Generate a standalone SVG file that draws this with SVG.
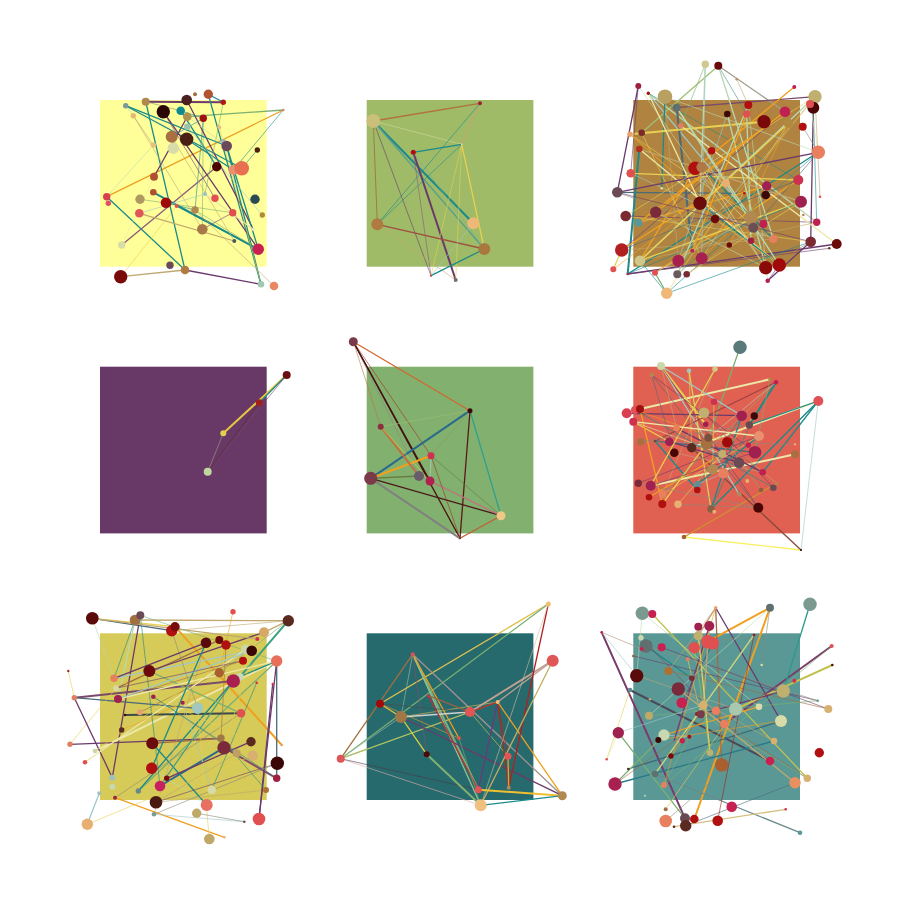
<svg xmlns="http://www.w3.org/2000/svg" width="900" height="900" viewBox="0 0 900 900">
<style>
line{stroke-linecap:round;stroke-width:1}
.a{stroke-width:.6}.m{stroke-width:1.3}.h{stroke-width:2}
.t{stroke:#1b8a8a}.p{stroke:#6b3a6b}.o{stroke:#f0a020}.g{stroke:#7ab070}.y{stroke:#e8d050}.l{stroke:#b8d8b0}.k{stroke:#c0a870}.b{stroke:#a06a40}.r{stroke:#a02020}.d{stroke:#3a1010}.s{stroke:#4a6a7a}.e{stroke:#8a8a7a}.c{stroke:#a0c8c8}.v{stroke:#ece8a8}
</style>
<rect width="900" height="900" fill="#fff"/>
<g id="panels">
<rect x="100" y="100" width="166.7" height="166.7" fill="#ffff99"/>
<rect x="366.7" y="100" width="166.7" height="166.7" fill="#9fbb67"/>
<rect x="633.3" y="100" width="166.7" height="166.7" fill="#b08440"/>
<rect x="100" y="366.7" width="166.7" height="166.7" fill="#683866"/>
<rect x="366.7" y="366.7" width="166.7" height="166.7" fill="#82b06e"/>
<rect x="633.3" y="366.7" width="166.7" height="166.7" fill="#e06152"/>
<rect x="100" y="633.3" width="166.7" height="166.7" fill="#d6ca58"/>
<rect x="366.7" y="633.3" width="166.7" height="166.7" fill="#276a6e"/>
<rect x="633.3" y="633.3" width="166.7" height="166.7" fill="#5a9896"/>
</g>
<g id="connectors">
<!-- panel 1 -->
<line x1="145.7" y1="101.7" x2="223.3" y2="102.3" class="p h"/>
<line x1="125.7" y1="105.7" x2="241.7" y2="168.3" class="t m"/>
<line x1="283.3" y1="110" x2="106.7" y2="196.7" class="o m"/>
<line x1="283.3" y1="110" x2="187.3" y2="116.7" class="g m"/>
<line x1="283.3" y1="110" x2="233.3" y2="170" class="t a"/>
<line x1="106.7" y1="196.7" x2="185" y2="270" class="t m"/>
<line x1="106.7" y1="196.7" x2="153.3" y2="145" class="l a"/>
<line x1="185" y1="270" x2="261" y2="284.3" class="p m"/>
<line x1="120.7" y1="276.7" x2="185" y2="270" class="k m"/>
<line x1="120.7" y1="276.7" x2="176.7" y2="206" class="y a"/>
<line x1="121.7" y1="245" x2="216.7" y2="166.7" class="m" stroke="#8a5a7a"/>
<line x1="145.7" y1="101.7" x2="185" y2="270" class="t m"/>
<line x1="208.3" y1="94.3" x2="261" y2="284.3" class="t m"/>
<line x1="203.3" y1="118.3" x2="202.3" y2="229.3" class="g a"/>
<line x1="203.3" y1="118.3" x2="195" y2="210" class="t a"/>
<line x1="186.7" y1="100" x2="253.3" y2="229.3" class="p m"/>
<line x1="163.3" y1="111.7" x2="258.3" y2="249.3" class="p m"/>
<line x1="153.3" y1="192.3" x2="258.3" y2="249.3" class="t h"/>
<line x1="139.3" y1="213.3" x2="234.3" y2="241" class="k m"/>
<line x1="140" y1="199.3" x2="232.7" y2="212.7" class="g a"/>
<line x1="166" y1="202.7" x2="195" y2="210" class="t a"/>
<line x1="154" y1="176.7" x2="187.3" y2="116.7" class="p m"/>
<line x1="133.3" y1="115.7" x2="202.3" y2="229.3" class="k a"/>
<line x1="125.7" y1="105.7" x2="226.7" y2="146" class="t m"/>
<line x1="180.7" y1="110.7" x2="216.7" y2="166.7" class="t m"/>
<line x1="180.7" y1="110.7" x2="203.3" y2="118.3" class="t a"/>
<line x1="208.3" y1="94.3" x2="223.3" y2="102.3" class="t m"/>
<line x1="258.3" y1="249.3" x2="176.7" y2="206" class="t m"/>
<line x1="258.3" y1="249.3" x2="195" y2="210" class="g a"/>
<line x1="232.7" y1="212.7" x2="202.3" y2="229.3" class="p a"/>
<line x1="226.7" y1="146" x2="258.3" y2="249.3" class="t m"/>
<line x1="226.7" y1="146" x2="261" y2="284.3" class="t m"/>
<line x1="241.7" y1="168.3" x2="257.3" y2="150" class="t a"/>
<line x1="171.7" y1="136.7" x2="203.3" y2="118.3" class="t a"/>
<line x1="186.7" y1="139.3" x2="233.3" y2="170" class="t m"/>
<line x1="171.7" y1="136.7" x2="234.3" y2="241" class="k a"/>
<line x1="205" y1="194" x2="253.3" y2="229.3" class="v m"/>
<line x1="163.3" y1="111.7" x2="215" y2="198.3" class="p a"/>
<line x1="219.3" y1="127.3" x2="261" y2="284.3" class="y a"/>
<line x1="205" y1="194" x2="139.3" y2="213.3" class="c a"/>
<line x1="133.3" y1="115.7" x2="153.3" y2="145" class="k a"/>
<line x1="145.7" y1="101.7" x2="180.7" y2="110.7" class="e a"/>
<line x1="223.3" y1="102.3" x2="205" y2="194" class="g a"/>
<line x1="121.7" y1="245" x2="154" y2="176.7" class="v a"/>
<line x1="187.3" y1="126.7" x2="262.3" y2="215" class="c a"/>
<line x1="195" y1="210" x2="274" y2="286" class="k a"/>
<line x1="187.3" y1="116.7" x2="226.7" y2="146" class="l a"/>
<line x1="125.7" y1="105.7" x2="133.3" y2="115.7" class="l a"/>
<!-- panel 2 -->
<line x1="373.3" y1="121" x2="480" y2="103.3" class="m" stroke="#b07040"/>
<line x1="373.3" y1="121" x2="461.7" y2="144.3" class="a" stroke="#d0d8a0"/>
<line x1="373.3" y1="121" x2="377.3" y2="224.3" class="a" stroke="#a05030"/>
<line x1="373.3" y1="121" x2="473.3" y2="223.3" class="t h"/>
<line x1="373.3" y1="121" x2="484.3" y2="249" class="m" stroke="#5aa08a"/>
<line x1="373.3" y1="121" x2="431" y2="275.7" class="p a"/>
<line x1="413.3" y1="152.3" x2="461.7" y2="144.3" class="t m"/>
<line x1="413.3" y1="152.3" x2="455.7" y2="280" class="p h"/>
<line x1="413.3" y1="152.3" x2="431" y2="275.7" class="a" stroke="#8a5a7a"/>
<line x1="480" y1="103.3" x2="461.7" y2="144.3" class="k m"/>
<line x1="480" y1="103.3" x2="377.3" y2="224.3" class="t a"/>
<line x1="461.7" y1="144.3" x2="377.3" y2="224.3" class="t a"/>
<line x1="461.7" y1="144.3" x2="484.3" y2="249" class="y m"/>
<line x1="461.7" y1="144.3" x2="431" y2="275.7" class="y a"/>
<line x1="461.7" y1="144.3" x2="455.7" y2="280" class="y a"/>
<line x1="377.3" y1="224.3" x2="484.3" y2="249" class="m" stroke="#a05040"/>
<line x1="377.3" y1="224.3" x2="455.7" y2="280" class="k a"/>
<line x1="484.3" y1="249" x2="431" y2="275.7" class="t m"/>
<line x1="473.3" y1="223.3" x2="431" y2="275.7" class="c a"/>
<line x1="413.3" y1="152.3" x2="484.3" y2="249" class="a" stroke="#70b090"/>
<!-- panel 3 -->
<line x1="718.3" y1="65.7" x2="641.7" y2="132.7" class="m" stroke="#a0c070"/>
<line x1="705.3" y1="64.3" x2="700" y2="203.3" class="l m"/>
<line x1="718.3" y1="65.7" x2="746.7" y2="114" class="a" stroke="#4a8a8a"/>
<line x1="718.3" y1="65.7" x2="785" y2="111.7" class="m" stroke="#a0a090"/>
<line x1="736.7" y1="79.3" x2="748.3" y2="105" class="k a"/>
<line x1="648.3" y1="93.3" x2="751" y2="217.7" class="c m"/>
<line x1="648.3" y1="93.3" x2="816.7" y2="222.3" class="l m"/>
<line x1="648.3" y1="93.3" x2="798.3" y2="180" class="t a"/>
<line x1="665" y1="96.7" x2="661.7" y2="188.3" class="t m"/>
<line x1="676.7" y1="107.7" x2="692.3" y2="250.7" class="s h"/>
<line x1="676.7" y1="107.7" x2="815" y2="96.7" class="m" stroke="#7a4a6a"/>
<line x1="794.3" y1="87" x2="695" y2="168.3" class="o m"/>
<line x1="815" y1="96.7" x2="640" y2="260.7" class="l m"/>
<line x1="813.3" y1="107.7" x2="810.7" y2="241.7" class="p m"/>
<line x1="764" y1="121.7" x2="630" y2="134.3" class="y h"/>
<line x1="617.3" y1="192.3" x2="744.3" y2="193.3" class="s m"/>
<line x1="617.3" y1="192.3" x2="638.3" y2="86" class="p m"/>
<line x1="627.7" y1="274" x2="818.3" y2="152.3" class="t m"/>
<line x1="627.7" y1="274" x2="836.7" y2="244" class="p m"/>
<line x1="627.7" y1="274" x2="639.3" y2="149" class="t h"/>
<line x1="666.7" y1="293.3" x2="751" y2="217.7" class="t a"/>
<line x1="666.7" y1="293.3" x2="655" y2="272.7" class="g m"/>
<line x1="765.7" y1="267.7" x2="810.7" y2="241.7" class="e a"/>
<line x1="767.7" y1="280.7" x2="810.7" y2="241.7" class="p m"/>
<line x1="621.7" y1="250" x2="726" y2="183.3" class="o m"/>
<line x1="640" y1="260.7" x2="695" y2="168.3" class="o m"/>
<line x1="638.3" y1="222.7" x2="766.7" y2="186" class="o m"/>
<line x1="701.7" y1="258.3" x2="765.7" y2="195" class="o a"/>
<line x1="655" y1="272.7" x2="798.3" y2="180" class="o m"/>
<line x1="655.7" y1="212.3" x2="785" y2="111.7" class="o m"/>
<line x1="630.7" y1="173.3" x2="798.3" y2="180" class="y m"/>
<line x1="625.7" y1="216" x2="810.7" y2="241.7" class="y a"/>
<line x1="640" y1="260.7" x2="801" y2="201.7" class="y m"/>
<line x1="779.3" y1="265" x2="639.3" y2="149" class="v m"/>
<line x1="727.3" y1="114" x2="765.7" y2="267.7" class="l m"/>
<line x1="746.7" y1="114" x2="751" y2="240.7" class="l m"/>
<line x1="748.3" y1="105" x2="767.7" y2="280.7" class="l a"/>
<line x1="718.3" y1="65.7" x2="773.3" y2="239" class="l m"/>
<line x1="676.7" y1="107.7" x2="751" y2="217.7" class="l m"/>
<line x1="700" y1="203.3" x2="779.3" y2="265" class="t m"/>
<line x1="701.7" y1="167.3" x2="773.3" y2="239" class="t m"/>
<line x1="813.3" y1="107.7" x2="816.7" y2="222.3" class="t a"/>
<line x1="625.7" y1="216" x2="816.7" y2="222.3" class="p a"/>
<line x1="621.7" y1="250" x2="785" y2="111.7" class="p a"/>
<line x1="767.7" y1="280.7" x2="779.3" y2="265" class="p a"/>
<line x1="680.7" y1="125.7" x2="836.7" y2="244" class="v m"/>
<line x1="638.3" y1="86" x2="630.7" y2="173.3" class="p a"/>
<line x1="810" y1="104" x2="818.3" y2="152.3" class="v a"/>
<line x1="815" y1="96.7" x2="820" y2="196.7" class="k a"/>
<line x1="818.3" y1="152.3" x2="802.7" y2="126.7" class="e a"/>
<line x1="665" y1="96.7" x2="678.3" y2="260.7" class="k a"/>
<line x1="641.7" y1="132.7" x2="701.7" y2="258.3" class="y a"/>
<line x1="711.7" y1="150.7" x2="715" y2="219" class="e a"/>
<line x1="695" y1="168.3" x2="753.3" y2="227.7" class="v a"/>
<line x1="726" y1="183.3" x2="677.3" y2="274.3" class="g a"/>
<line x1="617.3" y1="192.3" x2="751" y2="240.7" class="e a"/>
<line x1="801" y1="201.7" x2="627.7" y2="274" class="t a"/>
<line x1="700" y1="203.3" x2="638.3" y2="222.7" class="k a"/>
<line x1="655.7" y1="212.3" x2="765.7" y2="267.7" class="l a"/>
<line x1="715" y1="219" x2="779.3" y2="265" class="y a"/>
<line x1="753.3" y1="227.7" x2="818.3" y2="152.3" class="s a"/>
<line x1="763.3" y1="224" x2="630" y2="134.3" class="y a"/>
<line x1="773.3" y1="239" x2="621.7" y2="250" class="k a"/>
<line x1="829.3" y1="248.3" x2="627.7" y2="274" class="p a"/>
<line x1="729.3" y1="245" x2="788.3" y2="123.3" class="o a"/>
<line x1="678.3" y1="260.7" x2="815" y2="96.7" class="l a"/>
<line x1="701.7" y1="258.3" x2="788.3" y2="123.3" class="y a"/>
<line x1="677.3" y1="274.3" x2="818.3" y2="152.3" class="a" stroke="#3a8a9a"/>
<line x1="686.7" y1="274.3" x2="753.3" y2="227.7" class="k a"/>
<line x1="666.7" y1="293.3" x2="715" y2="219" class="y a"/>
<line x1="630" y1="134.3" x2="751" y2="240.7" class="o a"/>
<line x1="692.3" y1="250.7" x2="746.7" y2="114" class="o m"/>
<line x1="613.3" y1="269.3" x2="726" y2="183.3" class="o a"/>
<line x1="705.3" y1="64.3" x2="680.7" y2="125.7" class="g a"/>
<line x1="640" y1="260.7" x2="666.7" y2="293.3" class="t a"/>
<line x1="630" y1="134.3" x2="779.3" y2="265" class="o a"/>
<line x1="638.3" y1="86" x2="765.7" y2="267.7" class="l a"/>
<line x1="648.3" y1="93.3" x2="700" y2="203.3" class="v m"/>
<line x1="630.7" y1="173.3" x2="773.3" y2="239" class="c a"/>
<line x1="617.3" y1="192.3" x2="818.3" y2="152.3" class="p m"/>
<line x1="625.7" y1="216" x2="815" y2="96.7" class="y a"/>
<line x1="638.3" y1="222.7" x2="785" y2="111.7" class="o m"/>
<line x1="640" y1="260.7" x2="788.3" y2="123.3" class="y m"/>
<line x1="613.3" y1="269.3" x2="621.7" y2="250" class="y m"/>
<line x1="655" y1="272.7" x2="751" y2="217.7" class="l a"/>
<line x1="677.3" y1="274.3" x2="748.3" y2="105" class="l m"/>
<line x1="678.3" y1="260.7" x2="727.3" y2="114" class="c a"/>
<line x1="765.7" y1="267.7" x2="701.7" y2="167.3" class="v a"/>
<line x1="692.3" y1="250.7" x2="815" y2="96.7" class="o a"/>
<line x1="686.7" y1="274.3" x2="801" y2="201.7" class="y a"/>
<line x1="666.7" y1="293.3" x2="810.7" y2="241.7" class="t a"/>
<line x1="810.7" y1="241.7" x2="617.3" y2="192.3" class="p a"/>
<line x1="801" y1="201.7" x2="639.3" y2="149" class="k m"/>
<line x1="665" y1="96.7" x2="818.3" y2="152.3" class="l a"/>
<line x1="676.7" y1="107.7" x2="779.3" y2="265" class="l m"/>
<line x1="705.3" y1="64.3" x2="701.7" y2="258.3" class="c a"/>
<line x1="748.3" y1="105" x2="655.7" y2="212.3" class="e a"/>
<line x1="798.3" y1="180" x2="621.7" y2="250" class="s a"/>
<line x1="816.7" y1="222.3" x2="640" y2="260.7" class="k a"/>
<!-- panel 4 -->
<line x1="286.7" y1="375" x2="223.3" y2="433.3" class="h" stroke="#e8c840"/>
<line x1="286.7" y1="375" x2="259.3" y2="402.7" class="t m"/>
<line x1="286.7" y1="375" x2="207.7" y2="471.7" class="a" stroke="#7a4a6a"/>
<line x1="259.3" y1="402.7" x2="207.7" y2="471.7" class="a" stroke="#5a2a2a"/>
<line x1="223.3" y1="433.3" x2="207.7" y2="471.7" class="a" stroke="#a0a080"/>
<!-- panel 5 -->
<line x1="353.3" y1="341.7" x2="470" y2="410.7" class="m" stroke="#d06830"/>
<line x1="353.3" y1="341.7" x2="380.7" y2="426.7" class="a" stroke="#c07040"/>
<line x1="353.3" y1="341.7" x2="431" y2="455.7" class="a" stroke="#a03020"/>
<line x1="353.3" y1="341.7" x2="419" y2="476" class="e a"/>
<line x1="353.3" y1="341.7" x2="430" y2="481" class="d m"/>
<line x1="353.3" y1="341.7" x2="460" y2="538.3" class="m" stroke="#4a1010"/>
<line x1="470" y1="410.7" x2="370.7" y2="478.3" class="h" stroke="#2a6a8a"/>
<line x1="470" y1="410.7" x2="501" y2="515.7" class="m" stroke="#30a090"/>
<line x1="470" y1="410.7" x2="460" y2="538.3" class="m" stroke="#5a1a1a"/>
<line x1="470" y1="410.7" x2="380.7" y2="426.7" class="a" stroke="#a0c070"/>
<line x1="470" y1="410.7" x2="431" y2="455.7" class="a" stroke="#8a9a50"/>
<line x1="370.7" y1="478.3" x2="431" y2="455.7" class="o h"/>
<line x1="370.7" y1="478.3" x2="419" y2="476" class="m" stroke="#6a7a40"/>
<line x1="370.7" y1="478.3" x2="501" y2="515.7" class="m" stroke="#4a1a1a"/>
<line x1="370.7" y1="478.3" x2="460" y2="538.3" class="h" stroke="#808080"/>
<line x1="430" y1="481" x2="501" y2="515.7" class="m" stroke="#c07080"/>
<line x1="431" y1="455.7" x2="501" y2="515.7" class="a" stroke="#6a7a40"/>
<line x1="431" y1="455.7" x2="460" y2="538.3" class="a" stroke="#a03020"/>
<line x1="501" y1="515.7" x2="460" y2="538.3" class="m" stroke="#c06030"/>
<line x1="380.7" y1="426.7" x2="419" y2="476" class="h" stroke="#c07040"/>
<line x1="380.7" y1="426.7" x2="430" y2="481" class="a" stroke="#e0d040"/>
<line x1="431" y1="455.7" x2="430" y2="481" class="m" stroke="#a0c0a0"/>
<!-- panel 6 -->
<line x1="740" y1="347.3" x2="706.7" y2="443.3" class="g m"/>
<line x1="640" y1="409" x2="770" y2="379.3" class="v h"/>
<line x1="818.3" y1="401" x2="691.7" y2="447.7" class="v h"/>
<line x1="818.3" y1="401" x2="711" y2="509" class="t m"/>
<line x1="818.3" y1="401" x2="762.7" y2="472.3" class="t m"/>
<line x1="818.3" y1="401" x2="749.3" y2="425" class="t m"/>
<line x1="818.3" y1="401" x2="801" y2="550" class="c a"/>
<line x1="684" y1="537" x2="801" y2="550" class="m" stroke="#f8f060"/>
<line x1="684" y1="537" x2="776.7" y2="483.3" class="m" stroke="#d09030"/>
<line x1="801" y1="550" x2="691.7" y2="447.7" class="m" stroke="#8a4a3a"/>
<line x1="661" y1="366" x2="739.3" y2="494.3" class="c m"/>
<line x1="661" y1="366" x2="705.7" y2="424.3" class="y h"/>
<line x1="689" y1="370.7" x2="711" y2="509" class="m" stroke="#d8d060"/>
<line x1="651.7" y1="375" x2="758.3" y2="507.7" class="s a"/>
<line x1="776" y1="382.3" x2="749.3" y2="425" class="t h"/>
<line x1="776" y1="382.3" x2="655" y2="441" class="m" stroke="#a04040"/>
<line x1="770" y1="379.3" x2="755" y2="452.3" class="g a"/>
<line x1="715" y1="369" x2="662.7" y2="494.3" class="k a"/>
<line x1="626.7" y1="413.3" x2="741.7" y2="415.7" class="p m"/>
<line x1="633.3" y1="421.7" x2="669.3" y2="441.7" class="y m"/>
<line x1="655" y1="441" x2="697.3" y2="490" class="t m"/>
<line x1="655" y1="441" x2="755" y2="452.3" class="s m"/>
<line x1="650.7" y1="485.7" x2="795" y2="454.3" class="v h"/>
<line x1="649" y1="497.3" x2="722.3" y2="454" class="o m"/>
<line x1="662.3" y1="504" x2="706.7" y2="443.3" class="y m"/>
<line x1="741.7" y1="415.7" x2="711" y2="509" class="t m"/>
<line x1="754.3" y1="416" x2="711" y2="509" class="t a"/>
<line x1="669.3" y1="441.7" x2="739" y2="462.7" class="p m"/>
<line x1="676.7" y1="428.3" x2="762.7" y2="472.3" class="p m"/>
<line x1="759" y1="436" x2="697.7" y2="484.3" class="t m"/>
<line x1="739" y1="462.7" x2="747.3" y2="481" class="e a"/>
<line x1="661" y1="366" x2="741.7" y2="415.7" class="c m"/>
<line x1="635" y1="410" x2="727.3" y2="442.3" class="o a"/>
<line x1="640.7" y1="441.7" x2="795" y2="444.3" class="e a"/>
<line x1="638.3" y1="483.3" x2="759" y2="436" class="p a"/>
<line x1="662.7" y1="494.3" x2="759" y2="436" class="y a"/>
<line x1="678" y1="504.3" x2="758.3" y2="507.7" class="e a"/>
<line x1="651.7" y1="375" x2="674.3" y2="452.7" class="s a"/>
<line x1="689" y1="370.7" x2="691.7" y2="447.7" class="y a"/>
<line x1="714" y1="401.7" x2="712.7" y2="469.3" class="y a"/>
<line x1="704" y1="412.7" x2="773.3" y2="487.7" class="p a"/>
<line x1="705.7" y1="424.3" x2="776.7" y2="483.3" class="k a"/>
<line x1="727.3" y1="442.3" x2="761" y2="490" class="g a"/>
<line x1="674.3" y1="452.7" x2="762.7" y2="472.3" class="a" stroke="#c0a080"/>
<line x1="723.3" y1="473.3" x2="697.7" y2="484.3" class="c a"/>
<line x1="697.7" y1="484.3" x2="741.7" y2="415.7" class="t a"/>
<line x1="708.3" y1="437.7" x2="776" y2="382.3" class="l a"/>
<line x1="640" y1="409" x2="662.3" y2="504" class="o m"/>
<line x1="633.3" y1="421.7" x2="722.3" y2="454" class="v a"/>
<line x1="676.7" y1="428.3" x2="661" y2="366" class="k a"/>
<line x1="650.7" y1="485.7" x2="755" y2="452.3" class="p a"/>
<line x1="638.3" y1="483.3" x2="758.3" y2="507.7" class="e a"/>
<line x1="651.7" y1="375" x2="755" y2="452.3" class="p a"/>
<line x1="711" y1="509" x2="818.3" y2="401" class="t a"/>
<line x1="661" y1="366" x2="758.3" y2="507.7" class="p a"/>
<line x1="715" y1="369" x2="650.7" y2="485.7" class="y m"/>
<line x1="635" y1="410" x2="773.3" y2="487.7" class="t a"/>
<line x1="633.3" y1="421.7" x2="759" y2="436" class="v m"/>
<line x1="640.7" y1="441.7" x2="749.3" y2="425" class="e a"/>
<line x1="662.7" y1="494.3" x2="776" y2="382.3" class="g a"/>
<line x1="678" y1="504.3" x2="754.3" y2="416" class="y a"/>
<!-- panel 7 -->
<line x1="92.3" y1="618.3" x2="171.7" y2="630.7" class="s m"/>
<line x1="135" y1="620" x2="288.3" y2="620.7" class="k m"/>
<line x1="92.3" y1="618.3" x2="114" y2="678.3" class="l a"/>
<line x1="92.3" y1="618.3" x2="175" y2="626.7" class="y m"/>
<line x1="175" y1="626.7" x2="281.7" y2="745" class="o h"/>
<line x1="140.3" y1="615.3" x2="112.3" y2="777.7" class="p m"/>
<line x1="135" y1="620" x2="118" y2="699" class="l m"/>
<line x1="135" y1="620" x2="114" y2="678.3" class="t a"/>
<line x1="288.3" y1="620.7" x2="240" y2="676.7" class="h" stroke="#3aa080"/>
<line x1="288.3" y1="620.7" x2="264" y2="632.3" class="k m"/>
<line x1="288.3" y1="620.7" x2="219.3" y2="672.7" class="g a"/>
<line x1="251.7" y1="650.7" x2="114" y2="678.3" class="c m"/>
<line x1="276.7" y1="661" x2="138.3" y2="791" class="g m"/>
<line x1="276.7" y1="661" x2="95" y2="751" class="v h"/>
<line x1="276.7" y1="661" x2="276.7" y2="778.3" class="s m"/>
<line x1="276.7" y1="661" x2="259" y2="819" class="p m"/>
<line x1="276.7" y1="661" x2="240" y2="676.7" class="t m"/>
<line x1="233.3" y1="681" x2="74.3" y2="697.7" class="h" stroke="#7a4a6a"/>
<line x1="219.3" y1="672.7" x2="140" y2="712.3" class="b a"/>
<line x1="197.7" y1="708.3" x2="74.3" y2="697.7" class="s m"/>
<line x1="125" y1="715" x2="241" y2="713.3" class="h" stroke="#3a4a4a"/>
<line x1="160" y1="786" x2="224" y2="747.7" class="h" stroke="#2a6a8a"/>
<line x1="115" y1="797.7" x2="224.3" y2="837.3" class="o m"/>
<line x1="70" y1="744.3" x2="221" y2="738.3" class="p m"/>
<line x1="70" y1="744.3" x2="116" y2="688.3" class="y a"/>
<line x1="74.3" y1="697.7" x2="112.3" y2="777.7" class="p m"/>
<line x1="224" y1="747.7" x2="276.7" y2="778.3" class="h" stroke="#8a4a6a"/>
<line x1="152.3" y1="743.3" x2="221" y2="738.3" class="b m"/>
<line x1="152.3" y1="743.3" x2="206.7" y2="805" class="t m"/>
<line x1="219.3" y1="640" x2="116" y2="688.3" class="b m"/>
<line x1="233" y1="611.7" x2="219.3" y2="672.7" class="o a"/>
<line x1="233.3" y1="681" x2="160" y2="786" class="m" stroke="#4aa080"/>
<line x1="233.3" y1="681" x2="138.3" y2="791" class="t m"/>
<line x1="87.3" y1="824.3" x2="99.3" y2="793.3" class="c m"/>
<line x1="68.3" y1="671" x2="74.3" y2="697.7" class="y a"/>
<line x1="206" y1="642.7" x2="154" y2="814.3" class="k a"/>
<line x1="226" y1="645" x2="221" y2="738.3" class="b a"/>
<line x1="245.7" y1="649.3" x2="85" y2="762.3" class="v m"/>
<line x1="171.7" y1="630.7" x2="288.3" y2="620.7" class="k a"/>
<line x1="153.3" y1="696.7" x2="236.7" y2="753.3" class="e a"/>
<line x1="182.7" y1="702.7" x2="211.7" y2="790" class="c a"/>
<line x1="197.7" y1="708.3" x2="209.3" y2="839" class="y a"/>
<line x1="241" y1="713.3" x2="115" y2="797.7" class="e a"/>
<line x1="251" y1="741.7" x2="166.7" y2="778.3" class="p m"/>
<line x1="252.7" y1="755.7" x2="87.3" y2="824.3" class="y a"/>
<line x1="151.7" y1="768.3" x2="206.7" y2="805" class="l a"/>
<line x1="266" y1="790" x2="156" y2="802.3" class="k a"/>
<line x1="156" y1="802.3" x2="277.3" y2="763.3" class="p a"/>
<line x1="154" y1="814.3" x2="244.3" y2="821.7" class="c a"/>
<line x1="196.7" y1="813.3" x2="244.3" y2="821.7" class="e a"/>
<line x1="259" y1="819" x2="272.7" y2="684" class="p m"/>
<line x1="257.3" y1="639" x2="224" y2="747.7" class="y a"/>
<line x1="243" y1="660.7" x2="118" y2="699" class="b a"/>
<line x1="256.7" y1="682.7" x2="211.7" y2="790" class="t a"/>
<line x1="236.7" y1="753.3" x2="156" y2="802.3" class="k a"/>
<line x1="140.3" y1="615.3" x2="160" y2="786" class="t a"/>
<line x1="149.3" y1="671" x2="264" y2="632.3" class="p m"/>
<line x1="92.3" y1="618.3" x2="257.3" y2="639" class="k m"/>
<line x1="140.3" y1="615.3" x2="276.7" y2="661" class="g a"/>
<line x1="171.7" y1="630.7" x2="197.7" y2="708.3" class="e a"/>
<line x1="206" y1="642.7" x2="114" y2="678.3" class="p m"/>
<line x1="149.3" y1="671" x2="241" y2="713.3" class="g m"/>
<line x1="114" y1="678.3" x2="251" y2="741.7" class="y a"/>
<line x1="118" y1="699" x2="276.7" y2="661" class="v m"/>
<line x1="153.3" y1="696.7" x2="276.7" y2="778.3" class="t a"/>
<line x1="121.7" y1="730" x2="233.3" y2="681" class="o a"/>
<line x1="221" y1="738.3" x2="266" y2="790" class="t a"/>
<line x1="151.7" y1="768.3" x2="206" y2="642.7" class="t m"/>
<line x1="264" y1="632.3" x2="95" y2="751" class="y a"/>
<line x1="251.7" y1="650.7" x2="118" y2="699" class="c m"/>
<line x1="243" y1="660.7" x2="116" y2="688.3" class="p a"/>
<line x1="154" y1="814.3" x2="277.3" y2="763.3" class="e a"/>
<!-- panel 8 -->
<line x1="380" y1="703.7" x2="548.3" y2="604" class="m" stroke="#e0c050"/>
<line x1="340.7" y1="758.7" x2="548.3" y2="604" class="g m"/>
<line x1="340.7" y1="758.7" x2="412.7" y2="654.3" class="m" stroke="#a07040"/>
<line x1="340.7" y1="758.7" x2="401" y2="717" class="a" stroke="#a0c0c0"/>
<line x1="340.7" y1="758.7" x2="470" y2="712" class="g m"/>
<line x1="340.7" y1="758.7" x2="497.7" y2="702" class="y a"/>
<line x1="340.7" y1="758.7" x2="480.7" y2="805.3" class="a" stroke="#e0b0b0"/>
<line x1="340.7" y1="758.7" x2="478.3" y2="789.7" class="a" stroke="#4a3a4a"/>
<line x1="412.7" y1="654.3" x2="401" y2="717" class="a" stroke="#a0c0a0"/>
<line x1="412.7" y1="654.3" x2="478.3" y2="789.7" class="h" stroke="#7ab080"/>
<line x1="412.7" y1="654.3" x2="480.7" y2="805.3" class="m" stroke="#90c090"/>
<line x1="412.7" y1="654.3" x2="459" y2="738.3" class="o m"/>
<line x1="412.7" y1="654.3" x2="562.3" y2="795.7" class="m" stroke="#a09090"/>
<line x1="412.7" y1="654.3" x2="426.7" y2="754.3" class="a" stroke="#8a4a6a"/>
<line x1="380" y1="703.7" x2="401" y2="717" class="m" stroke="#e8c040"/>
<line x1="380" y1="703.7" x2="459" y2="738.3" class="o a"/>
<line x1="401" y1="717" x2="470" y2="712" class="m" stroke="#d0d0d0"/>
<line x1="401" y1="717" x2="426.7" y2="754.3" class="m" stroke="#e0d040"/>
<line x1="401" y1="717" x2="562.3" y2="795.7" class="p m"/>
<line x1="401" y1="717" x2="497.7" y2="702" class="a" stroke="#e0c050"/>
<line x1="428.3" y1="695.7" x2="470" y2="712" class="m" stroke="#a06040"/>
<line x1="428.3" y1="695.7" x2="478.3" y2="789.7" class="m" stroke="#c03030"/>
<line x1="470" y1="712" x2="552.7" y2="660.7" class="h" stroke="#c0a090"/>
<line x1="497.7" y1="702" x2="552.7" y2="660.7" class="m" stroke="#c0a090"/>
<line x1="470" y1="712" x2="497.7" y2="702" class="m" stroke="#c02020"/>
<line x1="470" y1="712" x2="508" y2="756.3" class="a" stroke="#e0d040"/>
<line x1="497.7" y1="702" x2="508.7" y2="787.7" class="m" stroke="#a03020"/>
<line x1="497.7" y1="702" x2="508" y2="756.3" class="a" stroke="#c02020"/>
<line x1="497.7" y1="702" x2="562.3" y2="795.7" class="o m"/>
<line x1="497.7" y1="702" x2="478.3" y2="789.7" class="m" stroke="#6a3a7a"/>
<line x1="548.3" y1="604" x2="508.7" y2="787.7" class="m" stroke="#b02020"/>
<line x1="548.3" y1="604" x2="480.7" y2="805.3" class="a" stroke="#d0c0a0"/>
<line x1="552.7" y1="660.7" x2="480.7" y2="805.3" class="m" stroke="#c0b060"/>
<line x1="508" y1="756.3" x2="508.7" y2="787.7" class="o m"/>
<line x1="478.3" y1="789.7" x2="562.3" y2="795.7" class="h" stroke="#f0c030"/>
<line x1="480.7" y1="805.3" x2="562.3" y2="795.7" class="t m"/>
<line x1="426.7" y1="754.3" x2="480.7" y2="805.3" class="h" stroke="#80b070"/>
<line x1="459" y1="738.3" x2="480.7" y2="805.3" class="a" stroke="#80b070"/>
<line x1="380" y1="703.7" x2="470" y2="712" class="a" stroke="#4a4a4a"/>
<!-- panel 9 -->
<line x1="601.7" y1="632.3" x2="685" y2="818.3" class="h" stroke="#7a3a6a"/>
<line x1="601.7" y1="632.3" x2="641.7" y2="649" class="a" stroke="#b09080"/>
<line x1="630" y1="690" x2="770" y2="761" class="h" stroke="#4a4a5a"/>
<line x1="831.7" y1="646" x2="724.3" y2="724" class="h" stroke="#7a3a6a"/>
<line x1="832.3" y1="665" x2="735.7" y2="709" class="h" stroke="#c0c050"/>
<line x1="770" y1="607.7" x2="707.7" y2="641.7" class="o h"/>
<line x1="770" y1="607.7" x2="694.3" y2="819" class="o h"/>
<line x1="770" y1="607.7" x2="761.7" y2="665" class="e a"/>
<line x1="715.7" y1="607.7" x2="721.7" y2="765" class="b m"/>
<line x1="715.7" y1="607.7" x2="781" y2="721" class="p m"/>
<line x1="715.7" y1="607.7" x2="698.3" y2="635.7" class="k m"/>
<line x1="652.3" y1="614" x2="807.3" y2="778.3" class="m" stroke="#c0c050"/>
<line x1="810" y1="604.3" x2="783.3" y2="691" class="m" stroke="#2a9a8a"/>
<line x1="754" y1="635" x2="655" y2="774" class="m" stroke="#d0d060"/>
<line x1="655" y1="774" x2="800" y2="832.7" class="m" stroke="#6a8a8a"/>
<line x1="615" y1="784" x2="774" y2="741" class="m" stroke="#2a7a8a"/>
<line x1="618.3" y1="732.7" x2="685" y2="818.3" class="g m"/>
<line x1="785.7" y1="809.3" x2="674" y2="826.7" class="m" stroke="#d8c080"/>
<line x1="646" y1="646" x2="691.7" y2="678.3" class="t m"/>
<line x1="633.3" y1="656" x2="817.7" y2="700.7" class="p a"/>
<line x1="664" y1="735" x2="759" y2="706.7" class="o m"/>
<line x1="628.3" y1="769" x2="781" y2="721" class="m" stroke="#3a6a7a"/>
<line x1="606.7" y1="759.3" x2="630" y2="690" class="y a"/>
<line x1="615" y1="784" x2="664" y2="735" class="g m"/>
<line x1="641" y1="637.7" x2="724.3" y2="724" class="p a"/>
<line x1="687.7" y1="659.3" x2="700.7" y2="714.3" class="y a"/>
<line x1="668.3" y1="671" x2="828.3" y2="709" class="b a"/>
<line x1="678.3" y1="689" x2="774" y2="741" class="k a"/>
<line x1="681.7" y1="702.7" x2="712.7" y2="643.3" class="s m"/>
<line x1="703.3" y1="705" x2="709.3" y2="626" class="k m"/>
<line x1="716" y1="710.7" x2="615" y2="784" class="b a"/>
<line x1="700.7" y1="714.3" x2="783.3" y2="691" class="p m"/>
<line x1="649" y1="715.7" x2="817.7" y2="700.7" class="g a"/>
<line x1="664" y1="735" x2="689.3" y2="736.7" class="c a"/>
<line x1="682.3" y1="740.7" x2="703.3" y2="705" class="y a"/>
<line x1="710" y1="752.7" x2="694.3" y2="647.7" class="g m"/>
<line x1="671" y1="756" x2="682.3" y2="740.7" class="o a"/>
<line x1="795" y1="782.7" x2="685.7" y2="825.7" class="s a"/>
<line x1="664" y1="785" x2="689.3" y2="736.7" class="g a"/>
<line x1="665.7" y1="809.3" x2="735.7" y2="709" class="y a"/>
<line x1="665.7" y1="821" x2="781" y2="721" class="e a"/>
<line x1="601.7" y1="632.3" x2="636.7" y2="675.7" class="c a"/>
<line x1="606.7" y1="759.3" x2="618.3" y2="732.7" class="v a"/>
<line x1="642.3" y1="613.3" x2="636.7" y2="675.7" class="l a"/>
<line x1="707.7" y1="641.7" x2="746.7" y2="637" class="e a"/>
<line x1="709.3" y1="626" x2="674.3" y2="740" class="m" stroke="#7a3a6a"/>
<line x1="698.3" y1="635.7" x2="710" y2="752.7" class="y m"/>
<line x1="715.7" y1="607.7" x2="668.3" y2="671" class="k a"/>
<line x1="717.7" y1="820.7" x2="754" y2="635" class="r a"/>
<line x1="646" y1="646" x2="817.7" y2="700.7" class="e a"/>
<line x1="661.7" y1="647.3" x2="828.3" y2="709" class="p a"/>
<line x1="781" y1="721" x2="658.3" y2="740" class="o a"/>
<line x1="724.3" y1="724" x2="807.3" y2="778.3" class="b a"/>
<line x1="664" y1="785" x2="831.7" y2="646" class="g a"/>
<line x1="642.3" y1="613.3" x2="759" y2="706.7" class="l a"/>
<line x1="646" y1="646" x2="770" y2="761" class="e a"/>
<line x1="636.7" y1="675.7" x2="735.7" y2="709" class="k a"/>
<line x1="678.3" y1="689" x2="795" y2="782.7" class="k m"/>
<line x1="681.7" y1="702.7" x2="807.3" y2="778.3" class="g a"/>
<line x1="649" y1="715.7" x2="770" y2="607.7" class="l a"/>
<line x1="618.3" y1="732.7" x2="703.3" y2="705" class="c a"/>
<line x1="655" y1="774" x2="754" y2="635" class="l a"/>
<line x1="664" y1="785" x2="715.7" y2="607.7" class="o a"/>
</g>
<g id="nodes">
<g id="panel1-nodes">
<circle id="p1n1" cx="125.7" cy="105.7" r="2.7" fill="#7a9a9a"/>
<circle id="p1n2" cx="145.7" cy="101.7" r="4" fill="#b08850"/>
<circle id="p1n3" cx="186.7" cy="100" r="5.3" fill="#4a2020"/>
<circle id="p1n4" cx="195" cy="94.3" r="2" fill="#a07040"/>
<circle id="p1n5" cx="208.3" cy="94.3" r="4.7" fill="#b05530"/>
<circle id="p1n6" cx="223.3" cy="102.3" r="2.7" fill="#b01818"/>
<circle id="p1n7" cx="163.3" cy="111.7" r="6.7" fill="#2a0505"/>
<circle id="p1n8" cx="180.7" cy="110.7" r="4.3" fill="#108a90"/>
<circle id="p1n9" cx="187.3" cy="116.7" r="4.3" fill="#b09050"/>
<circle id="p1n10" cx="133.3" cy="115.7" r="2.7" fill="#e8b870"/>
<circle id="p1n11" cx="203.3" cy="118.3" r="3.7" fill="#a01010"/>
<circle id="p1n12" cx="187.3" cy="126.7" r="3.3" fill="#a0c0b0"/>
<circle id="p1n13" cx="171.7" cy="136.7" r="6" fill="#a87040"/>
<circle id="p1n14" cx="186.7" cy="139.3" r="6.7" fill="#4a2015"/>
<circle id="p1n15" cx="173.3" cy="148.3" r="5.7" fill="#d8dca8"/>
<circle id="p1n16" cx="153.3" cy="145" r="2.7" fill="#e8c080"/>
<circle id="p1n18" cx="223.3" cy="141.7" r="2.7" fill="#a0b0b0"/>
<circle id="p1n17" cx="226.7" cy="146" r="5.3" fill="#6a4a5a"/>
<circle id="p1n19" cx="257.3" cy="150" r="2.7" fill="#4a2010"/>
<circle id="p1n20" cx="216.7" cy="166.7" r="4.7" fill="#4a0000"/>
<circle id="p1n22" cx="233.3" cy="170" r="5" fill="#e89070"/>
<circle id="p1n21" cx="241.7" cy="168.3" r="7.3" fill="#e87050"/>
<circle id="p1n23" cx="283.3" cy="110" r="1.3" fill="#e08060"/>
<circle id="p1n24" cx="219.3" cy="127.3" r="2" fill="#e8c080"/>
<circle id="p1n25" cx="154" cy="176.7" r="4" fill="#b05030"/>
<circle id="p1n26" cx="153.3" cy="192.3" r="3.3" fill="#b05030"/>
<circle id="p1n27" cx="106.7" cy="196.7" r="3.7" fill="#d84050"/>
<circle id="p1n28" cx="108.3" cy="203.3" r="2.7" fill="#e05060"/>
<circle id="p1n29" cx="140" cy="199.3" r="4.7" fill="#b09860"/>
<circle id="p1n30" cx="166" cy="202.7" r="5.3" fill="#a00a0a"/>
<circle id="p1n31" cx="139.3" cy="213.3" r="4.3" fill="#e05555"/>
<circle id="p1n32" cx="176.7" cy="206" r="2" fill="#e05050"/>
<circle id="p1n33" cx="205" cy="194" r="2" fill="#a0c0c0"/>
<circle id="p1n34" cx="215" cy="198.3" r="3.7" fill="#e05055"/>
<circle id="p1n35" cx="255" cy="199.3" r="4.7" fill="#2a4a50"/>
<circle id="p1n36" cx="195" cy="210" r="3.7" fill="#b08850"/>
<circle id="p1n37" cx="232.7" cy="212.7" r="3.7" fill="#e05050"/>
<circle id="p1n38" cx="262.3" cy="215" r="2.7" fill="#b08840"/>
<circle id="p1n39" cx="202.3" cy="229.3" r="5.3" fill="#a87848"/>
<circle id="p1n40" cx="253.3" cy="229.3" r="1.7" fill="#e8e8c0"/>
<circle id="p1n41" cx="234.3" cy="241" r="2" fill="#4a5a5a"/>
<circle id="p1n42" cx="258.3" cy="249.3" r="5.7" fill="#c82050"/>
<circle id="p1n43" cx="121.7" cy="245" r="3.7" fill="#d8dca8"/>
<circle id="p1n44" cx="170" cy="265.3" r="3.7" fill="#6a4a5a"/>
<circle id="p1n45" cx="185" cy="270" r="4.3" fill="#b07a40"/>
<circle id="p1n46" cx="120.7" cy="276.7" r="6.7" fill="#7a0a0a"/>
<circle id="p1n47" cx="261" cy="284.3" r="3.3" fill="#a0c8b0"/>
<circle id="p1n48" cx="274" cy="286" r="4.3" fill="#e88860"/>
</g>
<g id="panel2-nodes">
<circle id="p2a" cx="373.3" cy="121" r="7" fill="#cbc07a"/>
<circle id="p2b" cx="480" cy="103.3" r="2" fill="#a0203a"/>
<circle id="p2c" cx="413.3" cy="152.3" r="2.5" fill="#b01010"/>
<circle id="p2d" cx="461.7" cy="144.3" r="1" fill="#d0d8a0"/>
<circle id="p2e" cx="377.3" cy="224.3" r="6" fill="#b07a40"/>
<circle id="p2f" cx="473.3" cy="223.3" r="6" fill="#f0b878"/>
<circle id="p2g" cx="484.3" cy="249" r="6" fill="#a87840"/>
<circle id="p2h" cx="431" cy="275.7" r="1" fill="#e03030"/>
<circle id="p2i" cx="455.7" cy="280" r="2" fill="#707070"/>
</g>
<g id="panel3-nodes">
<circle id="p3n1" cx="705.3" cy="64.3" r="3.7" fill="#d0c890"/>
<circle id="p3n2" cx="718.3" cy="65.7" r="4" fill="#6a0a0a"/>
<circle id="p3n3" cx="736.7" cy="79.3" r="1.3" fill="#c09060"/>
<circle id="p3n4" cx="638.3" cy="86" r="3" fill="#a02040"/>
<circle id="p3n5" cx="648.3" cy="93.3" r="1.7" fill="#a01010"/>
<circle id="p3n6" cx="665" cy="96.7" r="7.3" fill="#b8a060"/>
<circle id="p3n7" cx="676.7" cy="107.7" r="4" fill="#607070"/>
<circle id="p3n8" cx="794.3" cy="87" r="2" fill="#c02050"/>
<circle id="p3n9" cx="815" cy="96.7" r="6.7" fill="#c0b070"/>
<circle id="p3n10" cx="813.3" cy="107.7" r="6" fill="#4a0505"/>
<circle id="p3n11" cx="810" cy="104" r="4" fill="#e05050"/>
<circle id="p3n12" cx="748.3" cy="105" r="4" fill="#b01010"/>
<circle id="p3n13" cx="746.7" cy="114" r="3.7" fill="#e05050"/>
<circle id="p3n14" cx="727.3" cy="114" r="3.3" fill="#3a0a0a"/>
<circle id="p3n15" cx="764" cy="121.7" r="6.7" fill="#7a0a0a"/>
<circle id="p3n16" cx="785" cy="111.7" r="5.3" fill="#c02050"/>
<circle id="p3n17" cx="788.3" cy="123.3" r="4.7" fill="#b08840"/>
<circle id="p3n18" cx="802.7" cy="126.7" r="4" fill="#b01010"/>
<circle id="p3n19" cx="680.7" cy="125.7" r="2.7" fill="#e08060"/>
<circle id="p3n20" cx="630" cy="134.3" r="2.7" fill="#e8a070"/>
<circle id="p3n21" cx="641.7" cy="132.7" r="3.3" fill="#7a2a2a"/>
<circle id="p3n22" cx="639.3" cy="149" r="3.3" fill="#b03020"/>
<circle id="p3n23" cx="711.7" cy="150.7" r="3.7" fill="#b01010"/>
<circle id="p3n24" cx="695" cy="168.3" r="6.7" fill="#b01010"/>
<circle id="p3n25" cx="701.7" cy="167.3" r="5.3" fill="#b07848"/>
<circle id="p3n26" cx="818.3" cy="152.3" r="6.7" fill="#e88060"/>
<circle id="p3n27" cx="630.7" cy="173.3" r="4.3" fill="#e05050"/>
<circle id="p3n28" cx="726" cy="183.3" r="4" fill="#e8b070"/>
<circle id="p3n29" cx="798.3" cy="180" r="5" fill="#d03050"/>
<circle id="p3n30" cx="766.7" cy="186" r="4.7" fill="#a02050"/>
<circle id="p3n31" cx="617.3" cy="192.3" r="5.3" fill="#6a4a55"/>
<circle id="p3n32" cx="765.7" cy="195" r="4.3" fill="#3a0a0a"/>
<circle id="p3n33" cx="744.3" cy="193.3" r="1.3" fill="#b01010"/>
<circle id="p3n34" cx="801" cy="201.7" r="6" fill="#a02050"/>
<circle id="p3n35" cx="820" cy="196.7" r="1.3" fill="#e05050"/>
<circle id="p3n36" cx="700" cy="203.3" r="6.7" fill="#6a0a0a"/>
<circle id="p3n37" cx="625.7" cy="216" r="5.3" fill="#7a2a30"/>
<circle id="p3n38" cx="655.7" cy="212.3" r="5.7" fill="#7a2a3a"/>
<circle id="p3n39" cx="715" cy="219" r="4.3" fill="#6a0a0a"/>
<circle id="p3n40" cx="751" cy="217.7" r="6.7" fill="#b08850"/>
<circle id="p3n41" cx="753.3" cy="227.7" r="5" fill="#6a5055"/>
<circle id="p3n42" cx="763.3" cy="224" r="4" fill="#c02050"/>
<circle id="p3n43" cx="638.3" cy="222.7" r="4" fill="#5a9898"/>
<circle id="p3n44" cx="816.7" cy="222.3" r="3.7" fill="#c02050"/>
<circle id="p3n45" cx="803.3" cy="215" r="1.3" fill="#c08050"/>
<circle id="p3n46" cx="773.3" cy="239" r="4" fill="#e88060"/>
<circle id="p3n47" cx="751" cy="240.7" r="3.3" fill="#a02040"/>
<circle id="p3n48" cx="810.7" cy="241.7" r="5.3" fill="#7a2a30"/>
<circle id="p3n49" cx="836.7" cy="244" r="5" fill="#6a0a0a"/>
<circle id="p3n50" cx="829.3" cy="248.3" r="1.3" fill="#6a3a20"/>
<circle id="p3n51" cx="729.3" cy="245" r="2.7" fill="#6a0a0a"/>
<circle id="p3n52" cx="692.3" cy="250.7" r="2" fill="#c02050"/>
<circle id="p3n53" cx="621.7" cy="250" r="6.7" fill="#b02020"/>
<circle id="p3n54" cx="640" cy="260.7" r="5.3" fill="#d0c888"/>
<circle id="p3n55" cx="678.3" cy="260.7" r="6" fill="#a82050"/>
<circle id="p3n56" cx="701.7" cy="258.3" r="6" fill="#a82050"/>
<circle id="p3n57" cx="765.7" cy="267.7" r="6.7" fill="#8a0a0a"/>
<circle id="p3n58" cx="779.3" cy="265" r="6.7" fill="#a00a0a"/>
<circle id="p3n59" cx="613.3" cy="269.3" r="3" fill="#e05055"/>
<circle id="p3n60" cx="627.7" cy="274" r="1.3" fill="#c02050"/>
<circle id="p3n61" cx="655" cy="272.7" r="3" fill="#e05055"/>
<circle id="p3n62" cx="677.3" cy="274.3" r="4" fill="#6a5a60"/>
<circle id="p3n63" cx="686.7" cy="274.3" r="3.3" fill="#7a2a30"/>
<circle id="p3n64" cx="666.7" cy="293.3" r="5.7" fill="#f0b878"/>
<circle id="p3n65" cx="767.7" cy="280.7" r="2.3" fill="#b02050"/>
<circle id="p3n66" cx="661.7" cy="188.3" r="1.3" fill="#e8d890"/>
</g>
<g id="panel4-nodes">
<circle id="p4a" cx="286.7" cy="375" r="4" fill="#6b0f0f"/>
<circle id="p4b" cx="259.3" cy="402.7" r="3.5" fill="#a02020"/>
<circle id="p4c" cx="223.3" cy="433.3" r="3" fill="#e0d050"/>
<circle id="p4d" cx="207.7" cy="471.7" r="4" fill="#c0d8a0"/>
</g>
<g id="panel5-nodes">
<circle id="p5a" cx="353.3" cy="341.7" r="4.5" fill="#7a3a4a"/>
<circle id="p5b" cx="470" cy="410.7" r="2.5" fill="#3a0a0a"/>
<circle id="p5c" cx="380.7" cy="426.7" r="3" fill="#8a3040"/>
<circle id="p5d" cx="431" cy="455.7" r="3.5" fill="#d03050"/>
<circle id="p5e" cx="370.7" cy="478.3" r="6.5" fill="#7a3a48"/>
<circle id="p5f" cx="419" cy="476" r="5" fill="#6a5a6a"/>
<circle id="p5g" cx="430" cy="481" r="4.5" fill="#b02050"/>
<circle id="p5h" cx="501" cy="515.7" r="4.5" fill="#f0c888"/>
<circle id="p5i" cx="460" cy="538.3" r="1" fill="#a02020"/>
</g>
<g id="panel6-nodes">
<circle id="p6n1" cx="740" cy="347.3" r="6.7" fill="#5a7a7a"/>
<circle id="p6n2" cx="661" cy="366" r="4" fill="#c8d8a8"/>
<circle id="p6n3" cx="689" cy="370.7" r="2.3" fill="#a0c8c0"/>
<circle id="p6n4" cx="715" cy="369" r="2.7" fill="#d8c888"/>
<circle id="p6n5" cx="651.7" cy="375" r="2.3" fill="#b08850"/>
<circle id="p6n6" cx="770" cy="379.3" r="1.7" fill="#b08840"/>
<circle id="p6n7" cx="776" cy="382.3" r="2.3" fill="#c02050"/>
<circle id="p6n8" cx="818.3" cy="401" r="5" fill="#e05055"/>
<circle id="p6n9" cx="714" cy="401.7" r="3.3" fill="#d03050"/>
<circle id="p6n10" cx="626.7" cy="413.3" r="5" fill="#d84050"/>
<circle id="p6n11" cx="635" cy="410" r="4" fill="#e05055"/>
<circle id="p6n12" cx="640" cy="409" r="4" fill="#a01010"/>
<circle id="p6n13" cx="633.3" cy="421.7" r="4" fill="#d03050"/>
<circle id="p6n14" cx="704" cy="412.7" r="5.3" fill="#c0b070"/>
<circle id="p6n15" cx="741.7" cy="415.7" r="5.3" fill="#a02050"/>
<circle id="p6n16" cx="754.3" cy="416" r="3.7" fill="#3a0a0a"/>
<circle id="p6n17" cx="749.3" cy="425" r="3.7" fill="#6a4a50"/>
<circle id="p6n18" cx="705.7" cy="424.3" r="2.7" fill="#a02050"/>
<circle id="p6n19" cx="640.7" cy="441.7" r="3.7" fill="#a87040"/>
<circle id="p6n20" cx="655" cy="441" r="1.3" fill="#6a4a30"/>
<circle id="p6n21" cx="669.3" cy="441.7" r="4.3" fill="#a02050"/>
<circle id="p6n22" cx="676.7" cy="428.3" r="3.3" fill="#e8805a"/>
<circle id="p6n24" cx="691.7" cy="447.7" r="4.7" fill="#5a2a20"/>
<circle id="p6n25" cx="706.7" cy="443.3" r="6" fill="#a87040"/>
<circle id="p6n26" cx="708.3" cy="437.7" r="4" fill="#7a5040"/>
<circle id="p6n27" cx="727.3" cy="442.3" r="5.3" fill="#a00a0a"/>
<circle id="p6n28" cx="759" cy="436" r="5" fill="#e89070"/>
<circle id="p6n30" cx="748.3" cy="445" r="2.7" fill="#c02050"/>
<circle id="p6n29" cx="755" cy="452.3" r="6.3" fill="#a02050"/>
<circle id="p6n31" cx="795" cy="444.3" r="1.3" fill="#e8a070"/>
<circle id="p6n32" cx="795" cy="454.3" r="4" fill="#a87040"/>
<circle id="p6n33" cx="674.3" cy="452.7" r="4.3" fill="#4a0505"/>
<circle id="p6n34" cx="722.3" cy="454" r="4" fill="#c0b070"/>
<circle id="p6n35" cx="739" cy="462.7" r="5.3" fill="#6a4a55"/>
<circle id="p6n36" cx="712.7" cy="469.3" r="5.3" fill="#b08850"/>
<circle id="p6n37" cx="723.3" cy="473.3" r="5.3" fill="#e88060"/>
<circle id="p6n38" cx="762.7" cy="472.3" r="3.3" fill="#c02050"/>
<circle id="p6n39" cx="638.3" cy="483.3" r="3.7" fill="#7a2a3a"/>
<circle id="p6n40" cx="650.7" cy="485.7" r="5" fill="#a02050"/>
<circle id="p6n41" cx="697.7" cy="484.3" r="3.3" fill="#5a9098"/>
<circle id="p6n42" cx="697.3" cy="490" r="3.3" fill="#b01010"/>
<circle id="p6n43" cx="662.7" cy="494.3" r="4" fill="#e88060"/>
<circle id="p6n44" cx="649" cy="497.3" r="3.3" fill="#b01010"/>
<circle id="p6n45" cx="773.3" cy="487.7" r="3.3" fill="#6a4a55"/>
<circle id="p6n46" cx="776.7" cy="483.3" r="1.7" fill="#b08850"/>
<circle id="p6n47" cx="761" cy="490" r="2.3" fill="#8a6040"/>
<circle id="p6n48" cx="739.3" cy="494.3" r="2.3" fill="#b08860"/>
<circle id="p6n49" cx="662.3" cy="504" r="4" fill="#b01010"/>
<circle id="p6n50" cx="678" cy="504.3" r="3.7" fill="#e8b070"/>
<circle id="p6n51" cx="711" cy="509" r="3.7" fill="#8a6040"/>
<circle id="p6n52" cx="714.3" cy="511.7" r="2" fill="#e8b070"/>
<circle id="p6n53" cx="758.3" cy="507.7" r="5" fill="#4a0505"/>
<circle id="p6n54" cx="747.3" cy="481" r="2" fill="#e8b070"/>
<circle id="p6n55" cx="684" cy="537" r="2.3" fill="#a06030"/>
<circle id="p6n56" cx="801" cy="550" r="1" fill="#2a0a0a"/>
</g>
<g id="panel7-nodes">
<circle id="p7n1" cx="92.3" cy="618.3" r="6.3" fill="#5a0a0a"/>
<circle id="p7n2" cx="135" cy="620" r="5.3" fill="#a07040"/>
<circle id="p7n3" cx="140.3" cy="615.3" r="4" fill="#6a4a55"/>
<circle id="p7n4" cx="171.7" cy="630.7" r="5.7" fill="#b01010"/>
<circle id="p7n5" cx="175" cy="626.7" r="4.7" fill="#7a0a0a"/>
<circle id="p7n6" cx="233" cy="611.7" r="2.7" fill="#e05050"/>
<circle id="p7n7" cx="288.3" cy="620.7" r="5.7" fill="#5a2a20"/>
<circle id="p7n8" cx="264" cy="632.3" r="5" fill="#d8a868"/>
<circle id="p7n9" cx="206" cy="642.7" r="5.3" fill="#5a0a0a"/>
<circle id="p7n10" cx="219.3" cy="640" r="4" fill="#6a0a0a"/>
<circle id="p7n11" cx="226" cy="645" r="4.7" fill="#b01010"/>
<circle id="p7n12" cx="257.3" cy="639" r="2" fill="#d03050"/>
<circle id="p7n14" cx="245.7" cy="649.3" r="4.7" fill="#c8d8a8"/>
<circle id="p7n13" cx="251.7" cy="650.7" r="5.3" fill="#3a0505"/>
<circle id="p7n15" cx="243" cy="660.7" r="4" fill="#b01010"/>
<circle id="p7n16" cx="276.7" cy="661" r="5.7" fill="#e8705a"/>
<circle id="p7n17" cx="149.3" cy="671" r="6" fill="#6a0a0a"/>
<circle id="p7n18" cx="219.3" cy="672.7" r="4.7" fill="#a86030"/>
<circle id="p7n19" cx="114" cy="678.3" r="3.7" fill="#e88060"/>
<circle id="p7n21" cx="240" cy="676.7" r="3.7" fill="#c8d8b0"/>
<circle id="p7n20" cx="233.3" cy="681" r="6.7" fill="#a82050"/>
<circle id="p7n22" cx="256.7" cy="682.7" r="1.3" fill="#d03050"/>
<circle id="p7n23" cx="68.3" cy="671" r="1.2" fill="#a03020"/>
<circle id="p7n24" cx="116" cy="688.3" r="3" fill="#d8d8a0"/>
<circle id="p7n25" cx="74.3" cy="697.7" r="2.7" fill="#e08060"/>
<circle id="p7n26" cx="118" cy="699" r="4" fill="#a02050"/>
<circle id="p7n27" cx="153.3" cy="696.7" r="2.3" fill="#a02050"/>
<circle id="p7n28" cx="182.7" cy="702.7" r="2" fill="#a02050"/>
<circle id="p7n29" cx="197.7" cy="708.3" r="5.7" fill="#a0c8c0"/>
<circle id="p7n30" cx="140" cy="712.3" r="3" fill="#e8a070"/>
<circle id="p7n31" cx="241" cy="713.3" r="4.3" fill="#e05050"/>
<circle id="p7n32" cx="125" cy="715" r="1.2" fill="#3a0a0a"/>
<circle id="p7n33" cx="121.7" cy="730" r="2.7" fill="#5a2a20"/>
<circle id="p7n34" cx="70" cy="744.3" r="2.7" fill="#e08060"/>
<circle id="p7n35" cx="152.3" cy="743.3" r="6" fill="#6a0a0a"/>
<circle id="p7n36" cx="221" cy="738.3" r="3.7" fill="#a07848"/>
<circle id="p7n37" cx="224" cy="747.7" r="6.7" fill="#7a2a3a"/>
<circle id="p7n38" cx="251" cy="741.7" r="4.7" fill="#5a2a20"/>
<circle id="p7n39" cx="236.7" cy="753.3" r="4" fill="#c0a060"/>
<circle id="p7n40" cx="252.7" cy="755.7" r="5.3" fill="#d8b070"/>
<circle id="p7n41" cx="277.3" cy="763.3" r="6.7" fill="#3a0505"/>
<circle id="p7n42" cx="276.7" cy="778.3" r="3.7" fill="#a02040"/>
<circle id="p7n43" cx="281.7" cy="745" r="1.2" fill="#e8a070"/>
<circle id="p7n44" cx="85" cy="762.3" r="2.3" fill="#e05050"/>
<circle id="p7n45" cx="95" cy="751" r="2.3" fill="#c8d8a8"/>
<circle id="p7n46" cx="151.7" cy="768.3" r="5.7" fill="#b01010"/>
<circle id="p7n47" cx="166.7" cy="778.3" r="2.7" fill="#7a0a0a"/>
<circle id="p7n48" cx="160" cy="786" r="5.3" fill="#c82060"/>
<circle id="p7n49" cx="112.3" cy="777.7" r="3" fill="#a0c0c0"/>
<circle id="p7n50" cx="112.3" cy="786.7" r="3" fill="#c8d8b0"/>
<circle id="p7n51" cx="138.3" cy="791" r="2.7" fill="#6a8a8a"/>
<circle id="p7n52" cx="115" cy="797.7" r="2" fill="#a02040"/>
<circle id="p7n53" cx="99.3" cy="793.3" r="2" fill="#a0c0c0"/>
<circle id="p7n54" cx="211.7" cy="790" r="4.3" fill="#d8d8a8"/>
<circle id="p7n55" cx="266" cy="790" r="3" fill="#b07030"/>
<circle id="p7n56" cx="156" cy="802.3" r="6.3" fill="#4a1a10"/>
<circle id="p7n57" cx="154" cy="814.3" r="2.3" fill="#7a9a9a"/>
<circle id="p7n58" cx="206.7" cy="805" r="6" fill="#e87060"/>
<circle id="p7n59" cx="196.7" cy="813.3" r="4.7" fill="#c0a868"/>
<circle id="p7n60" cx="244.3" cy="821.7" r="1.3" fill="#6a4a55"/>
<circle id="p7n61" cx="259" cy="819" r="6.3" fill="#e05050"/>
<circle id="p7n62" cx="87.3" cy="824.3" r="5.7" fill="#e8b070"/>
<circle id="p7n63" cx="209.3" cy="839" r="5.3" fill="#c0a868"/>
<circle id="p7n64" cx="224.3" cy="837.3" r="1.3" fill="#e8b070"/>
<circle id="p7n65" cx="272.7" cy="684" r="1.2" fill="#d03050"/>
</g>
<g id="panel8-nodes">
<circle id="p8a" cx="548.3" cy="604" r="2.5" fill="#f0c070"/>
<circle id="p8b" cx="552.7" cy="660.7" r="6" fill="#e05555"/>
<circle id="p8c" cx="412.7" cy="654.3" r="2" fill="#e05050"/>
<circle id="p8d" cx="380" cy="703.7" r="4" fill="#a00a0a"/>
<circle id="p8e" cx="401" cy="717" r="6" fill="#a07848"/>
<circle id="p8f" cx="428.3" cy="695.7" r="1.5" fill="#c03050"/>
<circle id="p8g" cx="470" cy="712" r="5" fill="#e05555"/>
<circle id="p8h" cx="497.7" cy="702" r="2" fill="#f0c080"/>
<circle id="p8i" cx="459" cy="738.3" r="2" fill="#e05050"/>
<circle id="p8j" cx="426.7" cy="754.3" r="3" fill="#4a0a0a"/>
<circle id="p8k" cx="340.7" cy="758.7" r="4" fill="#e05555"/>
<circle id="p8l" cx="508" cy="756.3" r="3.5" fill="#e05555"/>
<circle id="p8m" cx="478.3" cy="789.7" r="3.5" fill="#e05555"/>
<circle id="p8n" cx="508.7" cy="787.7" r="2" fill="#b08860"/>
<circle id="p8o" cx="480.7" cy="805.3" r="6" fill="#f0c080"/>
<circle id="p8p" cx="562.3" cy="795.7" r="4.5" fill="#b08850"/>
</g>
<g id="panel9-nodes">
<circle id="p9n1" cx="642.3" cy="613.3" r="6.7" fill="#7a9a90"/>
<circle id="p9n2" cx="652.3" cy="614" r="4" fill="#c82050"/>
<circle id="p9n3" cx="715.7" cy="607.7" r="1.7" fill="#e8a070"/>
<circle id="p9n4" cx="770" cy="607.7" r="4" fill="#607070"/>
<circle id="p9n5" cx="810" cy="604.3" r="6.7" fill="#7a9a90"/>
<circle id="p9n6" cx="698.3" cy="626.7" r="4" fill="#a02050"/>
<circle id="p9n7" cx="709.3" cy="626" r="5" fill="#a02050"/>
<circle id="p9n8" cx="698.3" cy="635.7" r="4.7" fill="#c0b070"/>
<circle id="p9n9" cx="694.3" cy="647.7" r="5.7" fill="#e05050"/>
<circle id="p9n10" cx="707.7" cy="641.7" r="6.7" fill="#e05050"/>
<circle id="p9n11" cx="712.7" cy="643.3" r="6.3" fill="#e05050"/>
<circle id="p9n12" cx="754" cy="635" r="1.3" fill="#a01010"/>
<circle id="p9n13" cx="646" cy="646" r="6.7" fill="#607070"/>
<circle id="p9n14" cx="641" cy="637.7" r="2.7" fill="#c8d8b0"/>
<circle id="p9n15" cx="661.7" cy="647.3" r="4" fill="#c82050"/>
<circle id="p9n16" cx="641.7" cy="649" r="2" fill="#c82050"/>
<circle id="p9n17" cx="601.7" cy="632.3" r="1.3" fill="#c02050"/>
<circle id="p9n18" cx="633.3" cy="656" r="1.3" fill="#a06030"/>
<circle id="p9n19" cx="687.7" cy="659.3" r="2" fill="#e88060"/>
<circle id="p9n20" cx="636.7" cy="675.7" r="6.7" fill="#5a0a0a"/>
<circle id="p9n21" cx="668.3" cy="671" r="4" fill="#b07030"/>
<circle id="p9n22" cx="691.7" cy="678.3" r="2.7" fill="#7a2a3a"/>
<circle id="p9n23" cx="678.3" cy="689" r="6.7" fill="#7a2a3a"/>
<circle id="p9n24" cx="761.7" cy="665" r="1.3" fill="#d8d8a0"/>
<circle id="p9n25" cx="831.7" cy="646" r="2" fill="#e05050"/>
<circle id="p9n26" cx="832.3" cy="665" r="1.3" fill="#5a0a0a"/>
<circle id="p9n27" cx="630" cy="690" r="2.3" fill="#608890"/>
<circle id="p9n28" cx="650" cy="699.3" r="1.3" fill="#c0b070"/>
<circle id="p9n29" cx="681.7" cy="702.7" r="5.3" fill="#c82050"/>
<circle id="p9n30" cx="703.3" cy="705" r="4.3" fill="#d8b070"/>
<circle id="p9n31" cx="716" cy="710.7" r="4.3" fill="#e88060"/>
<circle id="p9n32" cx="735.7" cy="709" r="6.7" fill="#a8c8b0"/>
<circle id="p9n33" cx="759" cy="706.7" r="3.3" fill="#d8dca8"/>
<circle id="p9n34" cx="783.3" cy="691" r="6.7" fill="#c0b070"/>
<circle id="p9n35" cx="794.3" cy="680.7" r="2" fill="#d03050"/>
<circle id="p9n37" cx="817.7" cy="700.7" r="1.3" fill="#5a9898"/>
<circle id="p9n38" cx="828.3" cy="709" r="4" fill="#d8b070"/>
<circle id="p9n39" cx="781" cy="721" r="6" fill="#d8dca8"/>
<circle id="p9n41" cx="697" cy="714" r="2" fill="#a01010"/>
<circle id="p9n40" cx="700.7" cy="714.3" r="4" fill="#7a3a4a"/>
<circle id="p9n42" cx="649" cy="715.7" r="4" fill="#c0a868"/>
<circle id="p9n43" cx="724.3" cy="724" r="4.3" fill="#e88060"/>
<circle id="p9n44" cx="664" cy="735" r="5.7" fill="#c8d8b0"/>
<circle id="p9n45" cx="658.3" cy="740" r="3" fill="#3a0505"/>
<circle id="p9n46" cx="682.3" cy="740.7" r="2.7" fill="#c82050"/>
<circle id="p9n47" cx="689.3" cy="736.7" r="2" fill="#a01010"/>
<circle id="p9n48" cx="618.3" cy="732.7" r="5.7" fill="#a02050"/>
<circle id="p9n49" cx="774" cy="741" r="3.3" fill="#d8b070"/>
<circle id="p9n50" cx="819.3" cy="752.7" r="4.7" fill="#b01010"/>
<circle id="p9n51" cx="710" cy="752.7" r="3.3" fill="#c0b070"/>
<circle id="p9n52" cx="671" cy="756" r="2.7" fill="#7a0a0a"/>
<circle id="p9n53" cx="606.7" cy="759.3" r="1.3" fill="#e05050"/>
<circle id="p9n54" cx="770" cy="761" r="4.3" fill="#c82050"/>
<circle id="p9n55" cx="721.7" cy="765" r="6.7" fill="#a86030"/>
<circle id="p9n56" cx="628.3" cy="769" r="1.3" fill="#4a2a20"/>
<circle id="p9n57" cx="655" cy="774" r="3.3" fill="#607070"/>
<circle id="p9n58" cx="615" cy="784" r="6.7" fill="#a82050"/>
<circle id="p9n59" cx="795" cy="782.7" r="5.7" fill="#e89060"/>
<circle id="p9n60" cx="807.3" cy="778.3" r="3.7" fill="#d8b070"/>
<circle id="p9n61" cx="664" cy="785" r="3" fill="#e88060"/>
<circle id="p9n62" cx="645" cy="795.7" r="1" fill="#c8d8b0"/>
<circle id="p9n63" cx="731.7" cy="806.7" r="5.3" fill="#c82050"/>
<circle id="p9n64" cx="785.7" cy="809.3" r="1.3" fill="#d03050"/>
<circle id="p9n65" cx="665.7" cy="809.3" r="2" fill="#a07040"/>
<circle id="p9n66" cx="665.7" cy="821" r="6.3" fill="#e88060"/>
<circle id="p9n67" cx="685" cy="818.3" r="5" fill="#6a4a55"/>
<circle id="p9n68" cx="685.7" cy="825.7" r="5.7" fill="#5a2a20"/>
<circle id="p9n69" cx="694.3" cy="819" r="4.3" fill="#b01010"/>
<circle id="p9n70" cx="717.7" cy="820.7" r="5.3" fill="#b01010"/>
<circle id="p9n71" cx="674" cy="826.7" r="1.3" fill="#5a2a20"/>
<circle id="p9n72" cx="800" cy="832.7" r="2.3" fill="#5a9898"/>
</g>
</g>
</svg>
